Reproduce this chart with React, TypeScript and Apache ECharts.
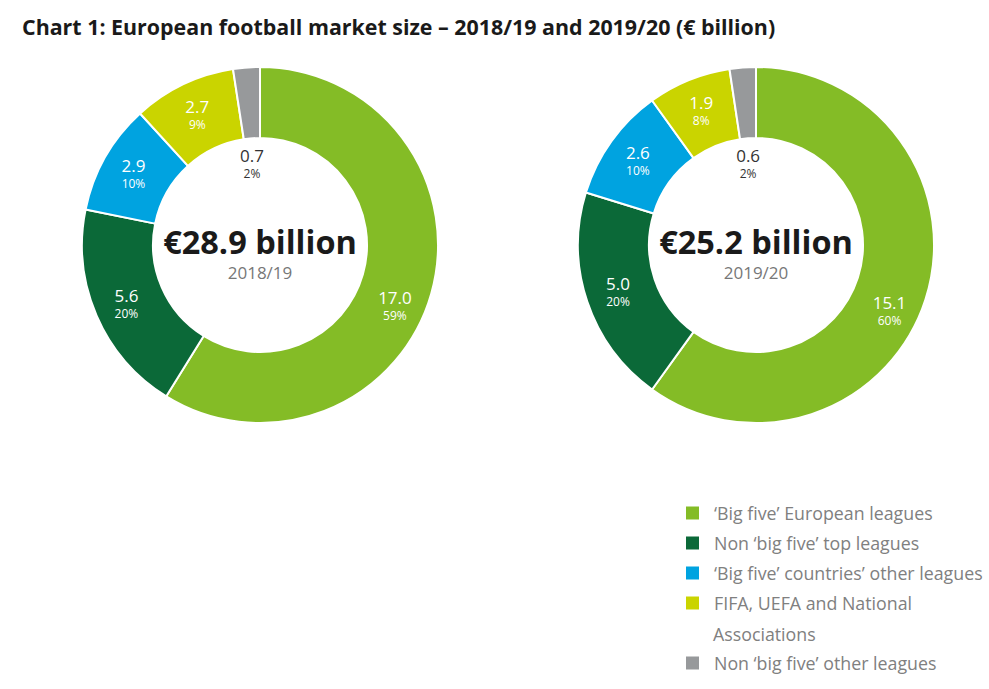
import React, { useEffect, useRef } from "react";
import * as echarts from "echarts";

const categories = [
  "‘Big five’ European leagues",
  "Non ‘big five’ top leagues",
  "‘Big five’ countries’ other leagues",
  "FIFA, UEFA and National Associations",
  "Non ‘big five’ other leagues",
];
const colors = ["#84BC26", "#0B6938", "#00A3E0", "#CAD400", "#97999B"];
const values1819 = [17.0, 5.6, 2.9, 2.7, 0.7];
const pct1819 = [59, 20, 10, 9, 2];
const values1920 = [15.1, 5.0, 2.6, 1.9, 0.6];
const pct1920 = [60, 20, 10, 8, 2];
const totals = ["€28.9 billion", "€25.2 billion"];
const seasons = ["2018/19", "2019/20"];
const titleText = "Chart 1: European football market size – 2018/19 and 2019/20 (€ billion)";

const FONT = "'Open Sans', sans-serif";

function makeSeries(values: number[], pcts: number[], center: number[]) {
  return {
    type: "pie",
    center,
    radius: [107, 178],
    startAngle: 90,
    clockwise: true,
    avoidLabelOverlap: false,
    silent: true,
    emphasis: { disabled: true },
    itemStyle: { borderColor: "#ffffff", borderWidth: 2 },
    labelLine: { show: false },
    label: {
      show: true,
      position: "inside",
      fontFamily: FONT,
      formatter: (p: any) => {
        const v = values[p.dataIndex].toFixed(1);
        const pc = pcts[p.dataIndex] + "%";
        return p.dataIndex === values.length - 1
          ? `{vd|${v}}\n{pd|${pc}}`
          : `{v|${v}}\n{p|${pc}}`;
      },
      rich: {
        v: { fontFamily: FONT, fontSize: 17, color: "#ffffff", lineHeight: 21, align: "center" },
        p: { fontFamily: FONT, fontSize: 12, color: "#ffffff", lineHeight: 15, align: "center" },
        vd: { fontFamily: FONT, fontSize: 17, color: "#333333", lineHeight: 21, align: "center" },
        pd: { fontFamily: FONT, fontSize: 12, color: "#333333", lineHeight: 15, align: "center" },
      },
    },
    labelLayout: (params: any) => {
      if (params.dataIndex === values.length - 1) return { dx: 3, dy: 63 };
      if (params.dataIndex === 0) return { dx: -5, dy: 20 };
      return {};
    },
    data: categories.map((name, i) => ({
      name,
      value: values[i],
      itemStyle: { color: colors[i] },
    })),
  };
}

export default function App() {
  const ref = useRef<HTMLDivElement>(null);
  useEffect(() => {
    document.body.style.margin = "0";
    const chart = echarts.init(ref.current!, undefined, { renderer: "svg" });
    const legendCommon = {
      orient: "vertical",
      left: 684,
      padding: 0,
      itemGap: 0,
      itemWidth: 15,
      itemHeight: 15,
      icon: "rect",
      selectedMode: false,
      textStyle: {
        fontFamily: FONT,
        fontSize: 17.8,
        color: "#808080",
        lineHeight: 30,
        padding: [0, 0, 0, 9],
      },
    };
    chart.setOption({
      animation: false,
      backgroundColor: "#ffffff",
      legend: [
        {
          ...legendCommon,
          top: 498,
          data: categories.slice(0, 4),
          formatter: (name: string) =>
            name === categories[3] ? "FIFA, UEFA and National" : name,
        },
        {
          ...legendCommon,
          top: 648,
          data: categories.slice(4),
        },
      ],
      graphic: [
        {
          type: "text",
          left: 22,
          top: 16,
          style: {
            text: titleText,
            fontFamily: FONT,
            fontSize: 21.4,
            fontWeight: "bold",
            fill: "#1a1a1a",
          },
        },
        {
          type: "text",
          x: 713,
          y: 634,
          style: {
            text: "Associations",
            fontFamily: FONT,
            fontSize: 17.8,
            fill: "#808080",
            verticalAlign: "middle",
            align: "left",
          },
        },
        ...[260, 756].flatMap((cx, i) => [
          {
            type: "text",
            x: cx,
            y: 241,
            style: {
              text: totals[i],
              fontFamily: FONT,
              fontSize: 32.5,
              fontWeight: "bold",
              fill: "#1a1a1a",
              align: "center",
              verticalAlign: "middle",
            },
          },
          {
            type: "text",
            x: cx,
            y: 272,
            style: {
              text: seasons[i],
              fontFamily: FONT,
              fontSize: 17,
              fill: "#777777",
              align: "center",
              verticalAlign: "middle",
            },
          },
        ]),
      ],
      series: [
        makeSeries(values1819, pct1819, [260, 245]),
        makeSeries(values1920, pct1920, [756, 245]),
      ],
    });
    return () => chart.dispose();
  }, []);
  return (
    <div
      ref={ref}
      style={{ position: "fixed", left: 0, top: 0, width: 989, height: 689 }}
    />
  );
}
